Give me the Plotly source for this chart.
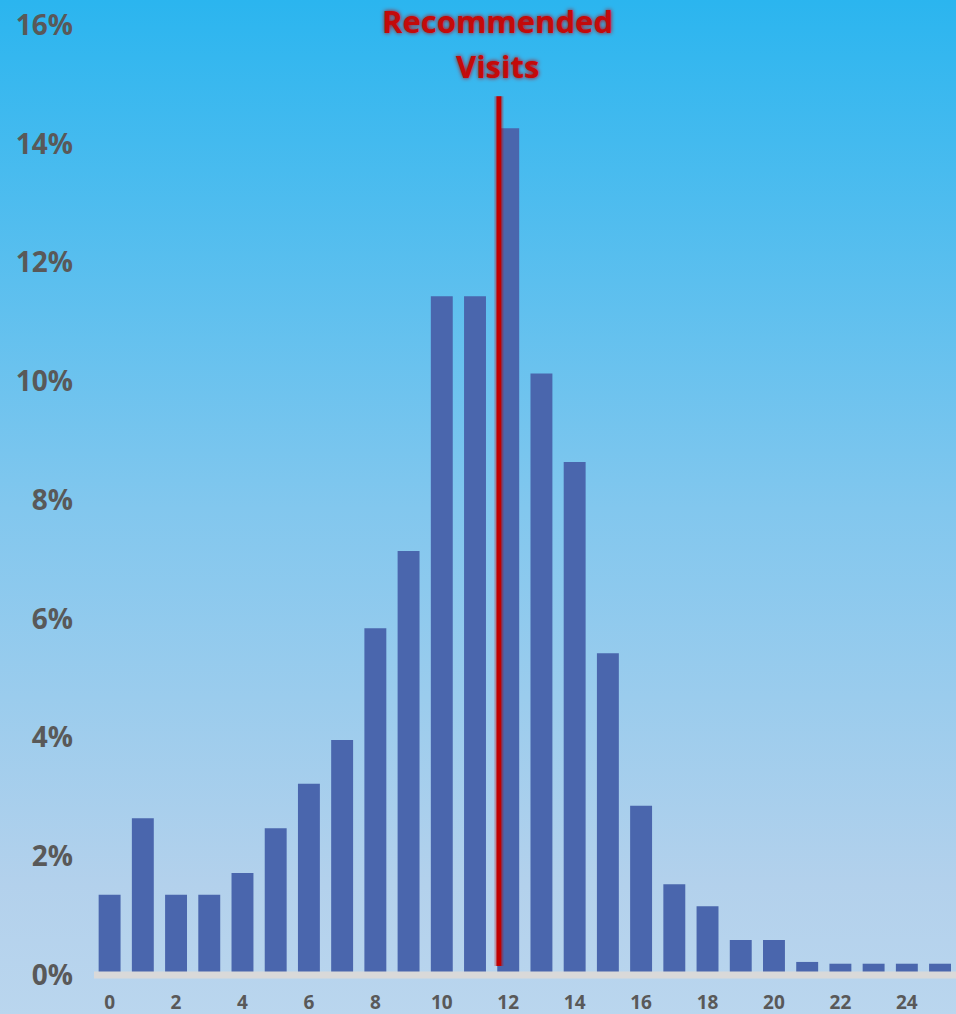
import base64
import plotly.graph_objects as go

visits = list(range(26))
share = [1.35, 2.64, 1.35, 1.35, 1.72, 2.47, 3.22, 3.96, 5.84, 7.14,
         11.43, 11.43, 14.26, 10.13, 8.64, 5.42, 2.85, 1.53, 1.16, 0.59,
         0.59, 0.22, 0.19, 0.19, 0.19, 0.19]
x_ticks = list(range(0, 25, 2))
y_ticks = list(range(0, 17, 2))
recommended_x = 11.72
recommended_top = 14.8
label_lines = ["Recommended", "Visits"]

W, H = 956, 1014
ML, MR, MT, MB = 94, 0, 0, 35
pw, ph = W - ML - MR, H - MT - MB
PX_PER_PCT = 59.375
ZERO_PX = 975  # pixel row of 0%

svg = f'''<svg xmlns="http://www.w3.org/2000/svg" width="{W}" height="{H}" preserveAspectRatio="none">
<defs><linearGradient id="g" x1="0" y1="0" x2="0" y2="1">
<stop offset="0" stop-color="#2bb5ef"/>
<stop offset="0.5" stop-color="#82c7ee"/>
<stop offset="0.87" stop-color="#b3d1ec"/>
<stop offset="1" stop-color="#bad6ee"/>
</linearGradient></defs>
<rect width="{W}" height="{H}" fill="url(#g)"/></svg>'''
src = "data:image/svg+xml;base64," + base64.b64encode(svg.encode()).decode()

fig = go.Figure()
fig.add_trace(go.Bar(x=visits, y=share, marker=dict(color="#4a66ad", line=dict(width=0)),
                     hoverinfo="skip"))

# baseline (above bars)
fig.add_shape(type="line", xref="paper", yref="y", x0=0, x1=1, y0=0, y1=0,
              layer="above", line=dict(color="#d9d9d9", width=7))

# red marker line (glow + core)
fig.add_shape(type="line", xref="x", yref="y", x0=recommended_x, x1=recommended_x,
              y0=0.15, y1=recommended_top, line=dict(color="rgba(200,0,0,0.3)", width=9))
fig.add_shape(type="line", xref="x", yref="y", x0=recommended_x, x1=recommended_x,
              y0=0.15, y1=recommended_top, line=dict(color="#c00000", width=5))

ypos = [1 - 21 / ph, 1 - 66 / ph]
for txt, yp in zip(label_lines, ypos):
    fig.add_annotation(x=11.68, xref="x", y=yp, yref="paper", text=f"<b>{txt}</b>",
                       showarrow=False, xanchor="center", yanchor="middle",
                       font=dict(family="Open Sans", size=31, color="#c40a0a",
                                 shadow="0px 0px 4px #c00000"))

fig.update_layout(
    width=W, height=H,
    margin=dict(l=ML, r=MR, t=MT, b=MB),
    paper_bgcolor="#bad6ee", plot_bgcolor="rgba(0,0,0,0)",
    bargap=0.34, showlegend=False,
    images=[dict(source=src, xref="paper", yref="paper",
                 x=-ML / pw, y=1 + MT / ph, sizex=W / pw, sizey=(H + 4) / ph,
                 sizing="stretch", layer="below", xanchor="left", yanchor="top")],
    xaxis=dict(range=[-0.47, 25.48], tickvals=x_ticks, ticktext=[str(v) for v in x_ticks],
               showgrid=False, zeroline=False, showline=False,
               ticks="", ticklabelstandoff=10, automargin=False,
               tickfont=dict(family="Open Sans", size=19, color="#595959", weight="bold")),
    yaxis=dict(range=[-(ph - ZERO_PX) / PX_PER_PCT, ZERO_PX / PX_PER_PCT],
               tickvals=y_ticks, ticktext=[f"{v}%" for v in y_ticks],
               showgrid=False, zeroline=False, showline=False, ticks="", ticklabelstandoff=20,
               automargin=False,
               tickfont=dict(family="Open Sans", size=28, color="#595959", weight="bold")),
)

fig.write_html("out.html")
